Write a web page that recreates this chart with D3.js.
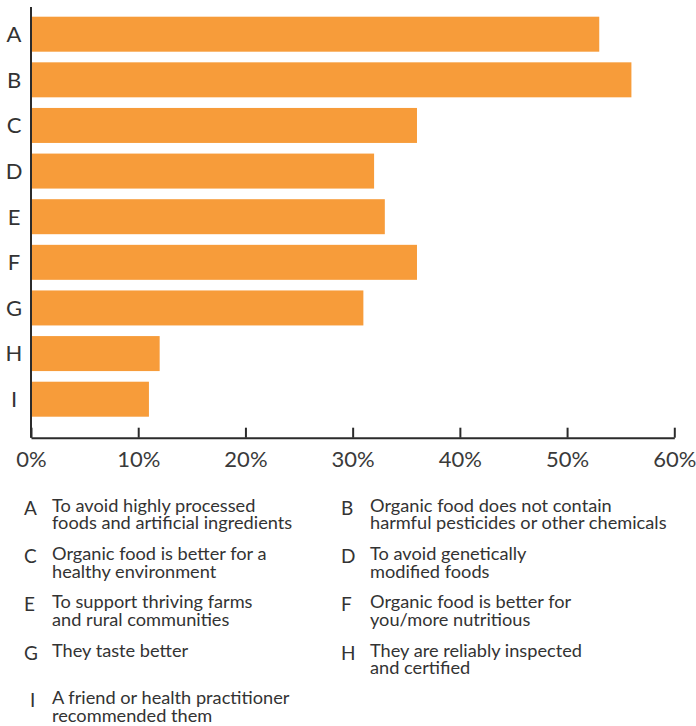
<!DOCTYPE html>
<html><head><meta charset="utf-8">
<script src="https://cdn.jsdelivr.net/npm/d3@7"></script>
<style>
html,body{margin:0;padding:0;background:#fff;}
svg{display:block;font-family:Lato,"Open Sans",sans-serif;}
</style></head>
<body>
<svg id="chart" width="696" height="726"></svg>
<script>
const categories = ["A","B","C","D","E","F","G","H","I"];
const values = [53, 56, 36, 32, 33, 36, 31, 12, 11];
const xTicks = [0, 10, 20, 30, 40, 50, 60];
const legendLetters = ["A","B","C","D","E","F","G","H","I"];
const legendTexts = [
  ["To avoid highly processed", "foods and artificial ingredients"],
  ["Organic food does not contain", "harmful pesticides or other chemicals"],
  ["Organic food is better for a", "healthy environment"],
  ["To avoid genetically", "modified foods"],
  ["To support thriving farms", "and rural communities"],
  ["Organic food is better for", "you/more nutritious"],
  ["They taste better"],
  ["They are reliably inspected", "and certified"],
  ["A friend or health practitioner", "recommended them"]
];

const svg = d3.select("#chart");
const x = d3.scaleLinear().domain([0, 60]).range([31, 674.3]);
const y = d3.scaleBand().domain(categories).range([16.7, 416.7]).paddingInner(0.233).paddingOuter(0);
const axisY = 437.7;

svg.append("g").selectAll("rect").data(categories).join("rect")
  .attr("x", x(0)).attr("y", d => y(d))
  .attr("width", (d, i) => x(values[i]) - x(0))
  .attr("height", y.bandwidth())
  .attr("fill", "#F79C3A");

// y axis line
svg.append("line").attr("x1", 31).attr("x2", 31).attr("y1", 7).attr("y2", axisY)
  .attr("stroke", "#2b2b2b").attr("stroke-width", 2);

// y labels
const gy = svg.append("g").attr("transform", "translate(22,0)")
  .call(d3.axisLeft(y).tickSize(0).tickPadding(0));
gy.select(".domain").remove();
gy.selectAll("text").attr("font-size", 22).attr("fill", "#333").attr("font-family", "Lato")
  .attr("text-anchor", "middle").attr("dx", -8).attr("dy", "0.36em");

// x axis
const gx = svg.append("g").attr("transform", `translate(0,${axisY})`)
  .call(d3.axisBottom(x).tickValues(xTicks).tickFormat(d => d + "%").tickSizeInner(-10).tickSizeOuter(0).tickPadding(14));
gx.select(".domain").attr("stroke", "#2b2b2b").attr("stroke-width", 2);
gx.selectAll(".tick line").attr("stroke", "#2b2b2b").attr("stroke-width", 2);
gx.selectAll("text").attr("font-size", 22).attr("fill", "#3a3a3a").attr("font-family", "Lato").attr("dy", "0.71em");

// legend
const colX = [24, 341];
const textX = [52, 370];
const rowBase = [511.7, 560, 608.3, 656.7, 704];
const lg = svg.append("g");
legendLetters.forEach((L, i) => {
  const col = i % 2, row = Math.floor(i / 2);
  const yb = rowBase[row];
  lg.append("text").attr("x", colX[col] + (L === "I" ? 6 : 0)).attr("y", yb + 2.8)
    .attr("font-size", 19).attr("fill", "#333").text(L);
  const t = lg.append("text").attr("x", textX[col]).attr("y", yb)
    .attr("font-size", 18.2).attr("fill", "#333");
  legendTexts[i].forEach((line, j) => {
    t.append("tspan").attr("x", textX[col]).attr("dy", j === 0 ? 0 : 17.5).text(line);
  });
});
</script>
</body></html>
